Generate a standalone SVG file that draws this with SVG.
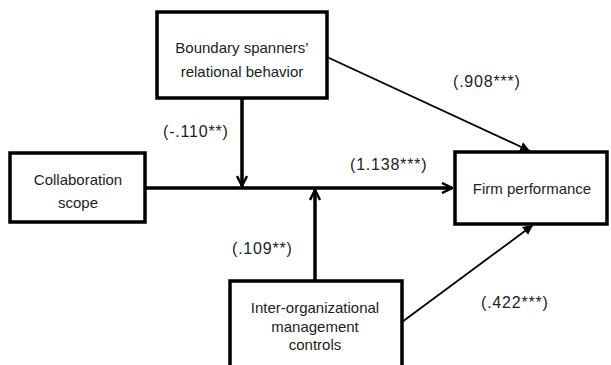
<svg xmlns="http://www.w3.org/2000/svg" width="611" height="365" viewBox="0 0 611 365">
<style>
.box{fill:#fff;stroke:#000;stroke-width:3.5}
.t{font-family:"Liberation Sans",Arial,sans-serif;font-size:15px;fill:#222;text-anchor:middle}
.l{font-family:"Liberation Sans",Arial,sans-serif;font-size:16px;fill:#222;letter-spacing:0.8px}
.c{stroke:#000;fill:none}
.thick{stroke-width:3.5}
.thin{stroke-width:1.8}
</style>
<defs>
<marker id="open" viewBox="0 0 12 12" refX="11" refY="6" markerWidth="12" markerHeight="12" markerUnits="userSpaceOnUse" orient="auto">
<path d="M1,1 L11,6 L1,11" fill="none" stroke="#000" stroke-width="2.5"/>
</marker>
<marker id="solid" viewBox="0 0 10 10" refX="10" refY="5" markerWidth="10" markerHeight="10" markerUnits="userSpaceOnUse" orient="auto">
<path d="M0,0 L10,5 L0,10 Z" fill="#000"/>
</marker>
</defs>
<g id="connectors">
<line class="c thick" x1="145" y1="188" x2="452" y2="188" marker-end="url(#open)"/>
<line class="c thick" x1="242" y1="98" x2="242" y2="186" marker-end="url(#open)"/>
<line class="c thick" x1="315" y1="281" x2="315" y2="190" marker-end="url(#open)"/>
<line class="c thin" x1="327" y1="57" x2="530" y2="151" marker-end="url(#solid)"/>
<line class="c thin" x1="402" y1="322" x2="533" y2="225" marker-end="url(#solid)"/>
</g>
<g id="labels">
<text x="453" y="87" class="l">(.908***)</text>
<text x="163" y="137" class="l">(-.110**)</text>
<text x="350" y="170" class="l">(1.138***)</text>
<text x="232" y="254" class="l">(.109**)</text>
<text x="481" y="308" class="l">(.422***)</text>
</g>
<g id="boundary">
<rect class="box" x="157" y="12" width="170" height="86"/>
<text class="t" x="242" y="53">Boundary spanners’</text>
<text class="t" x="242" y="77">relational behavior</text>
</g>
<g id="collaboration">
<rect class="box" x="10" y="153" width="135" height="69"/>
<text class="t" x="78" y="185">Collaboration</text>
<text class="t" x="78" y="208">scope</text>
</g>
<g id="firm">
<rect class="box" x="455" y="152" width="152" height="72"/>
<text class="t" x="532" y="194">Firm performance</text>
</g>
<g id="inter">
<rect class="box" x="230" y="281" width="172" height="100"/>
<text class="t" x="315" y="313">Inter-organizational</text>
<text class="t" x="315" y="332">management</text>
<text class="t" x="315" y="350">controls</text>
</g>
</svg>
